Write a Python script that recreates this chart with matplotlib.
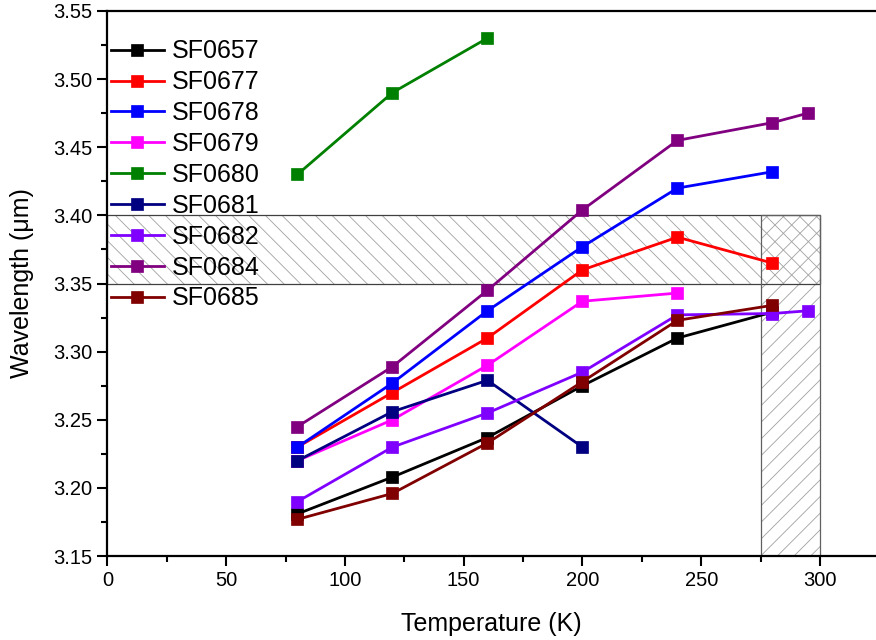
import numpy as np
import matplotlib
matplotlib.use('Agg')
import matplotlib.pyplot as plt
from matplotlib.patches import Rectangle
from matplotlib.ticker import MultipleLocator

plt.rcParams['font.family'] = ['Liberation Sans', 'DejaVu Sans']
plt.rcParams['hatch.color'] = '#a0a0a0'
plt.rcParams['hatch.linewidth'] = 0.6

# data
names = ['SF0657', 'SF0677', 'SF0678', 'SF0679', 'SF0680',
         'SF0681', 'SF0682', 'SF0684', 'SF0685']
colors = ['#000000', '#ff0000', '#0000ff', '#ff00ff', '#008000',
          '#000080', '#8000ff', '#800080', '#800000']

t_sf0657 = [80, 120, 160, 200, 240, 280]
w_sf0657 = [3.181, 3.208, 3.237, 3.275, 3.310, 3.329]
t_sf0677 = [80, 120, 160, 200, 240, 280]
w_sf0677 = [3.230, 3.270, 3.310, 3.360, 3.384, 3.365]
t_sf0678 = [80, 120, 160, 200, 240, 280]
w_sf0678 = [3.230, 3.277, 3.330, 3.377, 3.420, 3.432]
t_sf0679 = [80, 120, 160, 200, 240]
w_sf0679 = [3.220, 3.250, 3.290, 3.337, 3.343]
t_sf0680 = [80, 120, 160]
w_sf0680 = [3.430, 3.490, 3.530]
t_sf0681 = [80, 120, 160, 200]
w_sf0681 = [3.220, 3.256, 3.279, 3.230]
t_sf0682 = [80, 120, 160, 200, 240, 280, 295]
w_sf0682 = [3.190, 3.230, 3.255, 3.285, 3.327, 3.328, 3.330]
t_sf0684 = [80, 120, 160, 200, 240, 280, 295]
w_sf0684 = [3.245, 3.289, 3.345, 3.404, 3.455, 3.468, 3.475]
t_sf0685 = [80, 120, 160, 200, 240, 280]
w_sf0685 = [3.177, 3.196, 3.233, 3.278, 3.323, 3.334]

temps = [t_sf0657, t_sf0677, t_sf0678, t_sf0679, t_sf0680,
         t_sf0681, t_sf0682, t_sf0684, t_sf0685]
waves = [w_sf0657, w_sf0677, w_sf0678, w_sf0679, w_sf0680,
         w_sf0681, w_sf0682, w_sf0684, w_sf0685]

# shaded windows
band_w = [3.35, 3.40]     # wavelength window
band_t = [275, 300]       # temperature window

fig = plt.figure(figsize=(8.76, 6.4), dpi=100)
ax = fig.add_axes([0.1226, 0.131, 0.8774, 0.852])

ax.add_patch(Rectangle((0, band_w[0]), band_t[1], band_w[1] - band_w[0],
                       facecolor='none', edgecolor='#a0a0a0', hatch='\\\\', lw=0, zorder=1))
ax.add_patch(Rectangle((0, band_w[0]), band_t[1], band_w[1] - band_w[0],
                       facecolor='none', edgecolor='#404040', lw=0.9, zorder=1.5))
ax.add_patch(Rectangle((band_t[0], 3.15), band_t[1] - band_t[0], band_w[1] - 3.15,
                       facecolor='none', edgecolor='#a0a0a0', hatch='//', lw=0, zorder=1))
ax.add_patch(Rectangle((band_t[0], 3.15), band_t[1] - band_t[0], band_w[1] - 3.15,
                       facecolor='none', edgecolor='#606060', lw=0.9, zorder=1.5))

for t, w, n, c in zip(temps, waves, names, colors):
    ax.plot(t, w, '-s', color=c, lw=2.0, ms=9, mec=c, mew=0.5, label=n, zorder=3)

ax.set_xlim(0, 323.6)
ax.set_ylim(3.15, 3.55)
ax.xaxis.set_major_locator(MultipleLocator(50))
ax.xaxis.set_minor_locator(MultipleLocator(25))
ax.yaxis.set_major_locator(MultipleLocator(0.05))
ax.yaxis.set_minor_locator(MultipleLocator(0.025))
ax.yaxis.set_major_formatter(matplotlib.ticker.FormatStrFormatter('%.2f'))
ax.tick_params(which='major', direction='out', length=7, width=1.5, labelsize=14.5)
ax.tick_params(which='minor', direction='out', length=4, width=1.5)
for s in ['left', 'bottom', 'top']:
    ax.spines[s].set_linewidth(1.6)
ax.spines['right'].set_visible(False)

ax.set_xlabel('Temperature (K)', fontsize=18, labelpad=16)
ax.set_ylabel('Wavelength (\u03bcm)', fontsize=18, labelpad=14)

ax.legend(loc='upper left', bbox_to_anchor=(-0.008, 0.966), frameon=False,
          fontsize=18, handlelength=2.1, handletextpad=0.32, labelspacing=0.275,
          borderaxespad=0.0, borderpad=0.4)

fig.savefig('out.png', dpi=100)
